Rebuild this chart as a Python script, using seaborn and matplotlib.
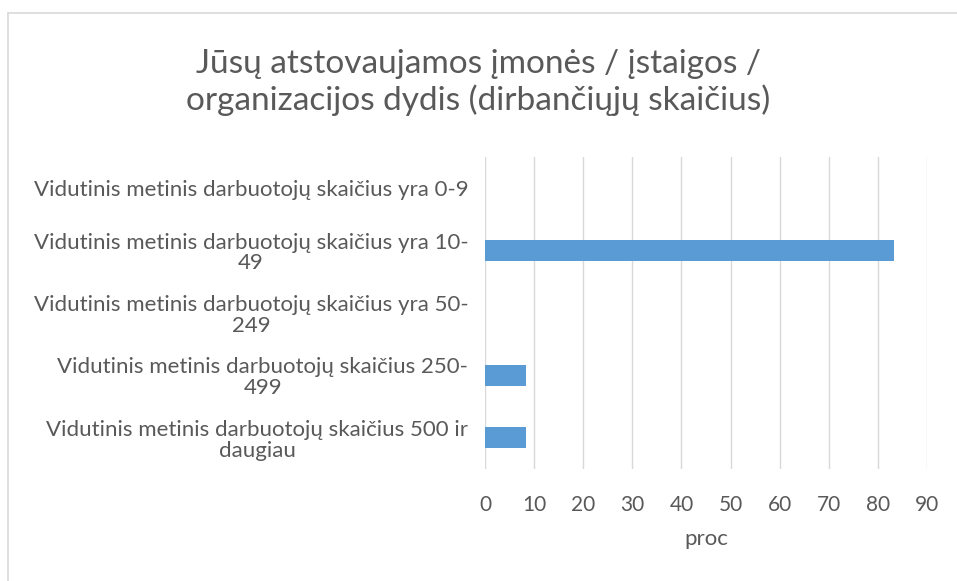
import pandas as pd
import seaborn as sns
import matplotlib.pyplot as plt
from matplotlib.lines import Line2D

# data
categories = [
    "Vidutinis metinis darbuotojų skaičius yra 0-9",
    "Vidutinis metinis darbuotojų skaičius yra 10-\n49",
    "Vidutinis metinis darbuotojų skaičius yra 50-\n249",
    "Vidutinis metinis darbuotojų skaičius 250-\n499",
    "Vidutinis metinis darbuotojų skaičius 500 ir\ndaugiau",
]
values = [0, 83.33, 0, 8.33, 8.33]
xticks = [0, 10, 20, 30, 40, 50, 60, 70, 80, 90]

title = "Jūsų atstovaujamos įmonės / įstaigos /\norganizacijos dydis (dirbančiųjų skaičius)"
xlabel = "proc"

df = pd.DataFrame({"cat": categories, "val": values})

sns.set_theme(style="white")
plt.rcParams['font.family'] = ['Lato', 'DejaVu Sans']
txt = "#595959"

fig = plt.figure(figsize=(9.57, 5.81), dpi=100)
ax = fig.add_axes([0.5068, 0.1928, 0.4619, 0.537])

sns.barplot(data=df, y="cat", x="val", orient="h", color="#5B9BD5",
            saturation=1, width=0.34, linewidth=0, ax=ax)

ax.set_xlim(0, 90)
ax.set_xticks(xticks)
ax.set_xticklabels([str(t) for t in xticks], fontsize=15, color=txt)
ax.set_yticks(range(len(categories)))
ax.set_yticklabels(categories, fontsize=16, color=txt, multialignment="center",
                   linespacing=1.05)
ax.tick_params(axis="both", length=0)
ax.tick_params(axis="y", pad=12)
ax.tick_params(axis="x", pad=19)
ax.set_ylabel("")
ax.set_xlabel(xlabel, fontsize=16, color=txt, labelpad=10)
for s in ax.spines.values():
    s.set_visible(False)
ax.grid(axis="x", color="#D9D9D9", linewidth=1)
ax.set_axisbelow(True)

fig.text(0.5, 0.858, title, ha="center", va="center", fontsize=24,
         color=txt, linespacing=1.18)

# chart frame like the Excel export
fig.add_artist(Line2D([8 / 957, 8 / 957], [0, 1 - 13 / 581], color="#D9D9D9", lw=1.2))
fig.add_artist(Line2D([8 / 957, 1], [1 - 13 / 581, 1 - 13 / 581], color="#D9D9D9", lw=1.2))

fig.savefig("out.png", dpi=100)
